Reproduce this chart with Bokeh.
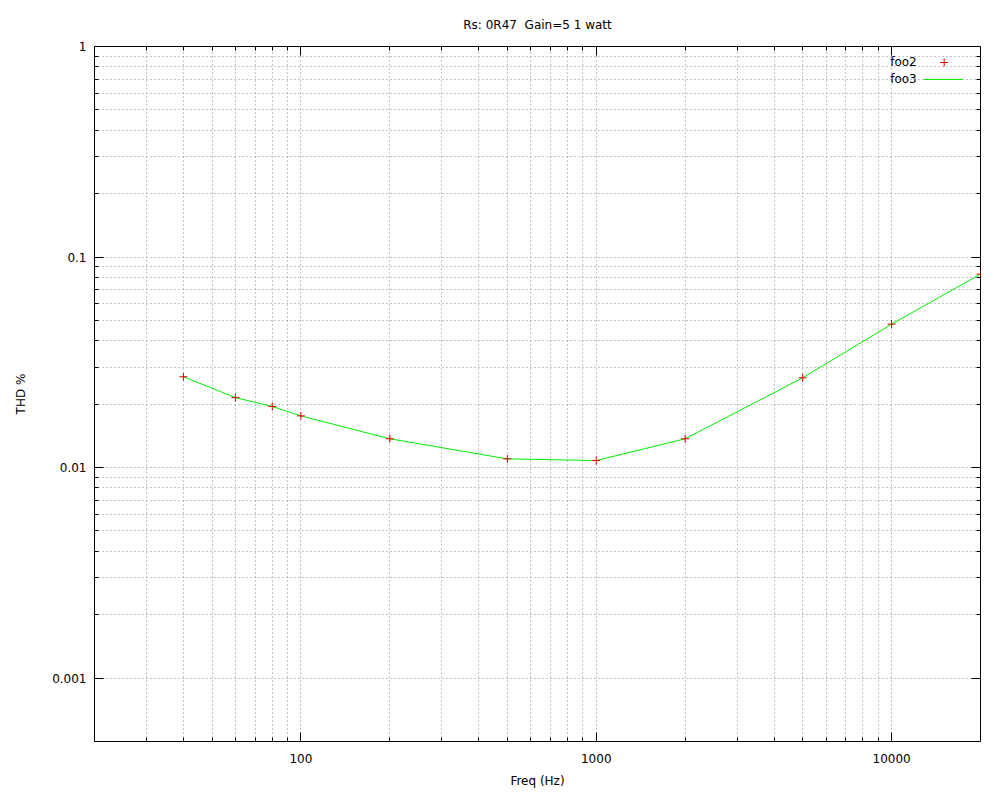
from bokeh.plotting import figure
from bokeh.models import FixedTicker, Range1d, LinearScale, LogAxis
from bokeh.embed import file_html
from bokeh.resources import INLINE
from bokeh.core.properties import value

# ---- data ----
freq_hz = [40, 60, 80, 100, 200, 500, 1000, 2000, 5000, 10000, 20000]
thd_pct = [0.027, 0.0215, 0.0195, 0.0176, 0.0137, 0.0110, 0.0108, 0.0137, 0.0267, 0.048, 0.083]

x_major = [100, 1000, 10000]
x_minor = [30, 40, 50, 60, 70, 80, 90,
           200, 300, 400, 500, 600, 700, 800, 900,
           2000, 3000, 4000, 5000, 6000, 7000, 8000, 9000]
y_major = [0.001, 0.01, 0.1, 1]
y_minor = [0.002, 0.003, 0.004, 0.005, 0.006, 0.007, 0.008, 0.009,
           0.02, 0.03, 0.04, 0.05, 0.06, 0.07, 0.08, 0.09,
           0.2, 0.3, 0.4, 0.5, 0.6, 0.7, 0.8, 0.9]
x_labels = {100: "100", 1000: "1000", 10000: "10000"}
y_labels = {0.001: "0.001", 0.01: "0.01", 0.1: "0.1", 1: "1"}

title_text = "Rs: 0R47 \u00a0Gain=5 1 watt"
x_title = "Freq (Hz)"
y_title = "THD %"
series_names = ["foo2", "foo3"]

FONT = "DejaVu Sans"
GRID = "#888888"

p = figure(width=986, height=790, x_axis_type="log", y_axis_type="log",
           x_range=Range1d(20, 20000), y_range=Range1d(0.0005, 1),
           output_backend="svg", toolbar_location=None,
           min_border_left=94, min_border_right=6, min_border_top=46, min_border_bottom=48)
p.background_fill_color = "white"
p.border_fill_color = "white"
p.outline_line_color = "black"
p.outline_line_width = 1

xt = FixedTicker(ticks=x_major, minor_ticks=x_minor)
yt = FixedTicker(ticks=y_major, minor_ticks=y_minor)

for ax, tk, lab in ((p.xaxis[0], xt, x_labels), (p.yaxis[0], yt, y_labels)):
    ax.ticker = tk
    ax.major_label_overrides = lab
    ax.major_tick_in = 9
    ax.major_tick_out = 0
    ax.minor_tick_in = 4
    ax.minor_tick_out = 0
    ax.major_label_text_font = FONT
    ax.major_label_text_font_size = "12px"
    ax.major_label_text_color = "black"
    ax.axis_label_text_font = FONT
    ax.axis_label_text_font_size = "12px"
    ax.axis_label_text_font_style = "normal"
    ax.axis_label_text_color = "black"
    ax.axis_line_color = None
    ax.major_tick_line_color = "black"
    ax.minor_tick_line_color = "black"

p.xaxis[0].axis_label = x_title
p.xaxis[0].major_label_standoff = 12
p.xaxis[0].axis_label_standoff = 8
p.yaxis[0].axis_label = y_title
p.yaxis[0].major_label_standoff = 8
p.yaxis[0].axis_label_standoff = 21

# mirrored ticks on top and right
top = LogAxis(ticker=xt, major_tick_in=9, major_tick_out=0,
              minor_tick_in=4, minor_tick_out=0, axis_line_color=None,
              major_label_text_color=None, major_label_text_font_size="1px",
              major_label_standoff=0, major_label_overrides=x_labels)
right = LogAxis(ticker=yt, major_tick_in=9, major_tick_out=0,
                minor_tick_in=4, minor_tick_out=0, axis_line_color=None,
                major_label_text_color=None, major_label_text_font_size="1px",
                major_label_standoff=0, major_label_overrides=y_labels)
p.add_layout(top, "above")
p.add_layout(right, "right")

for g, tk in ((p.xgrid[0], xt), (p.ygrid[0], yt)):
    g.ticker = tk
    g.grid_line_color = GRID
    g.grid_line_dash = "1 3"
    g.grid_line_width = 1
    g.minor_grid_line_color = GRID
    g.minor_grid_line_dash = "1 3"
    g.minor_grid_line_width = 1

p.line(freq_hz, thd_pct, line_color="#00ee00", line_width=1)
p.scatter(freq_hz, thd_pct, marker="cross", size=8, line_color="#dd0000", line_width=1)

# title
p.title.text = title_text
p.title.align = "center"
p.title.text_font = FONT
p.title.text_font_size = "12px"
p.title.text_font_style = "normal"
p.title.text_color = "black"
p.title.text_line_height = 1.0
p.title.standoff = 29

# gnuplot-style key (label left, sample right) in frame-fraction coordinates
p.extra_x_ranges = {"key": Range1d(0, 1)}
p.extra_y_ranges = {"key": Range1d(0, 1)}
p.extra_x_scales = {"key": LinearScale()}
p.extra_y_scales = {"key": LinearScale()}
p.text(x=[0.928, 0.928], y=[0.977, 0.9526], text=series_names,
       x_range_name="key", y_range_name="key",
       text_align="right", text_baseline="middle",
       text_font=value(FONT), text_font_size="12px", text_color="black")
p.scatter(x=[0.959], y=[0.977], marker="cross", size=8, line_color="#dd0000",
          x_range_name="key", y_range_name="key")
p.line(x=[0.936, 0.98], y=[0.9526, 0.9526], line_color="#00ee00",
       x_range_name="key", y_range_name="key")

open("out.html", "w").write(file_html(p, INLINE))
